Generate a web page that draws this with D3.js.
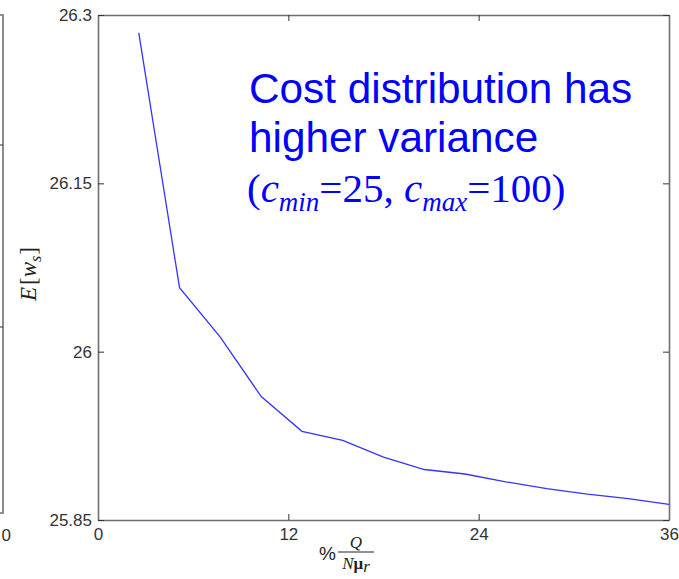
<!DOCTYPE html>
<html>
<head>
<meta charset="utf-8">
<script src="https://cdn.jsdelivr.net/npm/d3@7"></script>
<style>
  body { margin: 0; background: #fff; }
  svg { display: block; }
</style>
</head>
<body>
<script>
// chart data
var xValues = [2.57, 5.14, 7.71, 10.29, 12.86, 15.43, 18, 20.57, 23.14, 25.71, 28.29, 30.86, 33.43, 36];
var yValues = [26.284, 26.057, 26.013, 25.960, 25.929, 25.921, 25.906, 25.895, 25.891, 25.884, 25.878, 25.873, 25.869, 25.864];
var xTicks = [0, 12, 24, 36];
var yTicks = [25.85, 26, 26.15, 26.3];
var yTickLabels = ["25.85", "26", "26.15", "26.3"];

// layout
var W = 679, H = 579;
var margin = {top: 15, right: 10, bottom: 59, left: 98};
var width = W - margin.left - margin.right;
var height = H - margin.top - margin.bottom;

var svg = d3.select("body").append("svg")
            .attr("width", W)
            .attr("height", H);

// piece of the neighbouring panel cut off at the left edge
svg.append("path")
   .attr("d", "M0,513H3V15H0")
   .attr("fill", "none")
   .attr("stroke", "#6e6e6e")
   .attr("stroke-width", 1.6);
[145, 327].forEach(function(y) {
  svg.append("line")
     .attr("x1", 0).attr("x2", 3)
     .attr("y1", y).attr("y2", y)
     .attr("stroke", "#333");
});
svg.append("text")
   .attr("x", 11).attr("y", 541)
   .attr("text-anchor", "end")
   .attr("font-family", "Liberation Sans, Arial, sans-serif")
   .attr("font-size", 17)
   .attr("fill", "#333")
   .text("0");

var g = svg.append("g")
           .attr("transform", "translate(" + margin.left + "," + margin.top + ")");

var x = d3.scaleLinear().domain([0, 36]).range([0, width]);
var y = d3.scaleLinear().domain([25.85, 26.3]).range([height, 0]);

// axes, matlab style: inward ticks on all four sides
var xAxis = d3.axisBottom(x).tickValues(xTicks).tickSizeInner(-6).tickSizeOuter(0).tickPadding(8);
var xAxisTop = d3.axisTop(x).tickValues(xTicks).tickSizeInner(-6).tickSizeOuter(0).tickFormat("");
var yAxis = d3.axisLeft(y).tickValues(yTicks).tickSizeInner(-6).tickSizeOuter(0).tickPadding(6)
              .tickFormat(function(d, i) { return yTickLabels[i]; });
var yAxisRight = d3.axisRight(y).tickValues(yTicks).tickSizeInner(-6).tickSizeOuter(0).tickFormat("");

function styleAxis(sel) {
  sel.select(".domain").attr("stroke", "#6e6e6e").attr("stroke-width", 1.6);
  sel.selectAll(".tick line").attr("stroke", "#333");
  sel.selectAll(".tick text")
     .attr("fill", "#333")
     .attr("font-family", "Liberation Sans, Arial, sans-serif")
     .attr("font-size", 17);
}

g.append("g").attr("transform", "translate(0," + height + ")").call(xAxis).call(styleAxis);
g.append("g").call(xAxisTop).call(styleAxis);
g.append("g").call(yAxis).call(styleAxis);
g.append("g").attr("transform", "translate(" + width + ",0)").call(yAxisRight).call(styleAxis);

// the curve
var line = d3.line()
             .x(function(d, i) { return x(xValues[i]); })
             .y(function(d) { return y(d); });

g.append("path")
 .datum(yValues)
 .attr("d", line)
 .attr("fill", "none")
 .attr("stroke", "#3434ff")
 .attr("stroke-width", 1.3);

// y axis label E[w_s]
var yl = svg.append("text")
            .attr("transform", "translate(36,274) rotate(-90)")
            .attr("text-anchor", "middle")
            .attr("font-family", "Liberation Serif, Times New Roman, serif")
            .attr("font-size", 23)
            .attr("fill", "#222");
yl.append("tspan").attr("font-style", "italic").text("E");
yl.append("tspan").attr("dx", 2).text("[");
yl.append("tspan").attr("font-style", "italic").text("w");
yl.append("tspan").attr("font-style", "italic").attr("font-size", 16).attr("dy", 5).text("s");
yl.append("tspan").attr("dy", -5).attr("dx", 1).text("]");

// x axis label %Q/(N mu_r)
svg.append("text")
   .attr("x", 319).attr("y", 560)
   .attr("font-family", "Liberation Sans, Arial, sans-serif")
   .attr("font-size", 19)
   .attr("fill", "#222")
   .text("%");
svg.append("line")
   .attr("x1", 338).attr("x2", 374)
   .attr("y1", 552).attr("y2", 552)
   .attr("stroke", "#222").attr("stroke-width", 1);
svg.append("text")
   .attr("x", 356).attr("y", 548)
   .attr("text-anchor", "middle")
   .attr("font-family", "Liberation Serif, Times New Roman, serif")
   .attr("font-style", "italic")
   .attr("font-size", 17)
   .attr("fill", "#222")
   .text("Q");
var den = svg.append("text")
             .attr("x", 356).attr("y", 569)
             .attr("text-anchor", "middle")
             .attr("font-family", "Liberation Serif, Times New Roman, serif")
             .attr("font-size", 17)
             .attr("fill", "#222");
den.append("tspan").attr("font-style", "italic").text("N");
den.append("tspan").attr("font-weight", "bold").text("\u03bc");
den.append("tspan").attr("font-style", "italic").attr("dy", 3).text("r");

// annotation
var note = svg.append("g").attr("fill", "#0000ff");
note.append("text")
    .attr("x", 249).attr("y", 103)
    .attr("font-family", "Liberation Sans, Arial, sans-serif")
    .attr("font-size", 42.3)
    .text("Cost distribution has");
note.append("text")
    .attr("x", 249).attr("y", 152)
    .attr("font-family", "Liberation Sans, Arial, sans-serif")
    .attr("font-size", 42.3)
    .text("higher variance");
var l3 = note.append("text")
             .attr("x", 247).attr("y", 202)
             .attr("font-family", "Liberation Serif, Times New Roman, serif")
             .attr("font-size", 41);
l3.append("tspan").text("(");
l3.append("tspan").attr("font-style", "italic").text("c");
l3.append("tspan").attr("font-style", "italic").attr("font-size", 27).attr("dy", 9).text("min");
l3.append("tspan").attr("dy", -9).text("=25, ");
l3.append("tspan").attr("font-style", "italic").text("c");
l3.append("tspan").attr("font-style", "italic").attr("font-size", 27).attr("dy", 9).text("max");
l3.append("tspan").attr("dy", -9).text("=100)");
</script>
</body>
</html>
